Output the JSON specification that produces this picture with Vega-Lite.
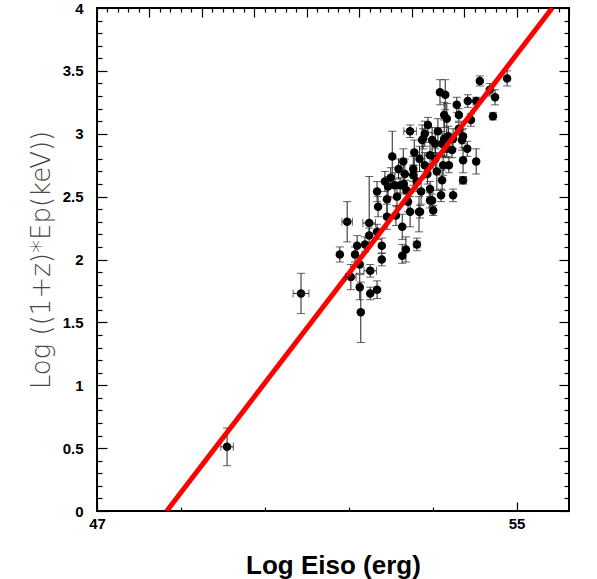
{
  "$schema": "https://vega.github.io/schema/vega-lite/v6.json",
  "width": 472,
  "height": 503,
  "autosize": "none",
  "padding": {"left": 97, "top": 8, "right": 28, "bottom": 68},
  "background": "white",
  "config": {
    "view": {"stroke": "black", "strokeWidth": 2},
    "axis": {"grid": false, "domain": false, "labelColor": "black", "labelFont": "Liberation Sans", "labelFontWeight": "bold", "labelFontSize": 15}
  },
  "datasets": {
    "pts": [
      {"x": 49.48, "y": 0.51, "ylo": 0.36, "yhi": 0.66, "xlo": 49.36, "xhi": 49.6},
      {"x": 50.89, "y": 1.73, "ylo": 1.57, "yhi": 1.89, "xlo": 50.74, "xhi": 51.04},
      {"x": 51.77, "y": 2.30, "ylo": 2.14, "yhi": 2.46, "xlo": 51.67, "xhi": 51.87},
      {"x": 52.19, "y": 2.29, "ylo": 2.19, "yhi": 2.66, "xlo": 52.07, "xhi": 52.31},
      {"x": 51.63, "y": 2.04, "ylo": 1.98, "yhi": 2.10},
      {"x": 51.96, "y": 2.11, "ylo": 2.03, "yhi": 2.19},
      {"x": 51.92, "y": 2.04, "ylo": 1.98, "yhi": 2.10},
      {"x": 52.01, "y": 1.96, "ylo": 1.89, "yhi": 2.03},
      {"x": 52.21, "y": 1.91, "ylo": 1.86, "yhi": 1.96, "xlo": 52.09, "xhi": 52.33},
      {"x": 51.84, "y": 1.86, "ylo": 1.76, "yhi": 1.96, "xlo": 51.74, "xhi": 51.94},
      {"x": 52.01, "y": 1.78, "ylo": 1.68, "yhi": 1.88},
      {"x": 52.21, "y": 1.73, "ylo": 1.68, "yhi": 1.78},
      {"x": 52.34, "y": 1.76, "ylo": 1.69, "yhi": 1.83},
      {"x": 52.03, "y": 1.58, "ylo": 1.34, "yhi": 1.82},
      {"x": 52.43, "y": 2.00, "ylo": 1.95, "yhi": 2.05},
      {"x": 52.43, "y": 2.11, "ylo": 2.05, "yhi": 2.17},
      {"x": 52.82, "y": 2.03, "ylo": 1.97, "yhi": 2.12},
      {"x": 52.89, "y": 2.08, "ylo": 1.98, "yhi": 2.18},
      {"x": 53.10, "y": 2.12, "ylo": 2.07, "yhi": 2.17, "xlo": 53.04, "xhi": 53.16},
      {"x": 52.82, "y": 2.26, "ylo": 2.16, "yhi": 2.36},
      {"x": 53.14, "y": 2.38, "ylo": 2.22, "yhi": 2.50},
      {"x": 52.97, "y": 2.38, "ylo": 2.26, "yhi": 2.50},
      {"x": 52.36, "y": 2.42, "ylo": 2.34, "yhi": 2.50},
      {"x": 52.19, "y": 2.19, "ylo": 2.13, "yhi": 2.25},
      {"x": 52.34, "y": 2.22, "ylo": 2.16, "yhi": 2.28},
      {"x": 52.11, "y": 2.12, "ylo": 2.06, "yhi": 2.18},
      {"x": 53.35, "y": 2.47, "ylo": 2.41, "yhi": 2.53},
      {"x": 53.41, "y": 2.39, "ylo": 2.35, "yhi": 2.43},
      {"x": 52.84, "y": 2.78, "ylo": 2.68, "yhi": 2.88},
      {"x": 53.20, "y": 2.95, "ylo": 2.83, "yhi": 3.07},
      {"x": 53.35, "y": 2.83, "ylo": 2.73, "yhi": 2.93},
      {"x": 53.45, "y": 2.92, "ylo": 2.84, "yhi": 3.00},
      {"x": 53.58, "y": 2.92, "ylo": 2.82, "yhi": 3.02},
      {"x": 53.77, "y": 2.87, "ylo": 2.81, "yhi": 2.93},
      {"x": 53.96, "y": 2.95, "ylo": 2.87, "yhi": 3.03},
      {"x": 54.06, "y": 2.88, "ylo": 2.82, "yhi": 2.94},
      {"x": 53.98, "y": 2.79, "ylo": 2.69, "yhi": 2.89},
      {"x": 54.23, "y": 2.78, "ylo": 2.68, "yhi": 2.88},
      {"x": 53.98, "y": 2.63, "ylo": 2.60, "yhi": 2.66, "xlo": 53.92, "xhi": 54.04},
      {"x": 53.60, "y": 2.75, "ylo": 2.67, "yhi": 2.83},
      {"x": 53.71, "y": 2.75, "ylo": 2.69, "yhi": 2.81},
      {"x": 53.25, "y": 2.75, "ylo": 2.65, "yhi": 2.85},
      {"x": 53.03, "y": 2.72, "ylo": 2.62, "yhi": 2.82},
      {"x": 52.87, "y": 2.68, "ylo": 2.56, "yhi": 2.80},
      {"x": 53.03, "y": 2.67, "ylo": 2.59, "yhi": 2.75},
      {"x": 53.48, "y": 2.70, "ylo": 2.55, "yhi": 2.85},
      {"x": 53.58, "y": 2.63, "ylo": 2.55, "yhi": 2.71},
      {"x": 53.35, "y": 2.56, "ylo": 2.50, "yhi": 2.62},
      {"x": 53.18, "y": 2.54, "ylo": 2.44, "yhi": 2.64},
      {"x": 53.39, "y": 2.47, "ylo": 2.42, "yhi": 2.52},
      {"x": 53.56, "y": 2.51, "ylo": 2.46, "yhi": 2.56},
      {"x": 53.79, "y": 2.51, "ylo": 2.46, "yhi": 2.56},
      {"x": 53.16, "y": 2.38, "ylo": 2.33, "yhi": 2.43},
      {"x": 52.93, "y": 2.46, "ylo": 2.38, "yhi": 2.54},
      {"x": 54.30, "y": 3.42, "ylo": 3.38, "yhi": 3.46},
      {"x": 54.82, "y": 3.44, "ylo": 3.38, "yhi": 3.50},
      {"x": 54.49, "y": 3.35, "ylo": 3.30, "yhi": 3.40},
      {"x": 54.59, "y": 3.29, "ylo": 3.23, "yhi": 3.35},
      {"x": 54.55, "y": 3.14, "ylo": 3.11, "yhi": 3.17},
      {"x": 53.54, "y": 3.33, "ylo": 3.23, "yhi": 3.43},
      {"x": 53.64, "y": 3.31, "ylo": 3.19, "yhi": 3.43},
      {"x": 53.86, "y": 3.23, "ylo": 3.17, "yhi": 3.29},
      {"x": 54.07, "y": 3.26, "ylo": 3.21, "yhi": 3.31},
      {"x": 54.23, "y": 3.26, "ylo": 3.23, "yhi": 3.29},
      {"x": 53.90, "y": 3.15, "ylo": 3.10, "yhi": 3.20},
      {"x": 53.62, "y": 3.15, "ylo": 3.05, "yhi": 3.25},
      {"x": 53.67, "y": 3.12, "ylo": 3.00, "yhi": 3.24},
      {"x": 54.13, "y": 3.11, "ylo": 3.06, "yhi": 3.16},
      {"x": 53.90, "y": 3.04, "ylo": 2.99, "yhi": 3.09},
      {"x": 53.98, "y": 2.98, "ylo": 2.92, "yhi": 3.04},
      {"x": 53.31, "y": 3.07, "ylo": 3.01, "yhi": 3.13},
      {"x": 53.50, "y": 3.02, "ylo": 2.92, "yhi": 3.12},
      {"x": 53.25, "y": 3.00, "ylo": 2.90, "yhi": 3.10},
      {"x": 53.62, "y": 2.96, "ylo": 2.81, "yhi": 3.11},
      {"x": 53.39, "y": 2.95, "ylo": 2.85, "yhi": 3.05},
      {"x": 53.22, "y": 2.96, "ylo": 2.88, "yhi": 3.04},
      {"x": 52.97, "y": 3.02, "ylo": 2.97, "yhi": 3.07, "xlo": 52.85, "xhi": 53.09},
      {"x": 52.63, "y": 2.82, "ylo": 2.60, "yhi": 3.02},
      {"x": 52.49, "y": 2.62, "ylo": 2.54, "yhi": 2.70},
      {"x": 52.68, "y": 2.59, "ylo": 2.49, "yhi": 2.69},
      {"x": 52.53, "y": 2.48, "ylo": 2.36, "yhi": 2.60},
      {"x": 52.72, "y": 2.50, "ylo": 2.42, "yhi": 2.58},
      {"x": 53.79, "y": 2.96, "ylo": 2.88, "yhi": 3.04},
      {"x": 53.67, "y": 2.88, "ylo": 2.82, "yhi": 2.94},
      {"x": 52.34, "y": 2.54, "ylo": 2.46, "yhi": 2.62},
      {"x": 52.78, "y": 2.59, "ylo": 2.53, "yhi": 2.65},
      {"x": 52.53, "y": 2.34, "ylo": 2.24, "yhi": 2.44},
      {"x": 52.60, "y": 2.65, "ylo": 2.57, "yhi": 2.73},
      {"x": 52.75, "y": 2.72, "ylo": 2.64, "yhi": 2.80},
      {"x": 52.90, "y": 2.55, "ylo": 2.47, "yhi": 2.63},
      {"x": 53.10, "y": 2.62, "ylo": 2.54, "yhi": 2.70},
      {"x": 53.05, "y": 2.85, "ylo": 2.75, "yhi": 2.95},
      {"x": 52.70, "y": 2.35, "ylo": 2.27, "yhi": 2.43},
      {"x": 53.30, "y": 2.68, "ylo": 2.60, "yhi": 2.76},
      {"x": 53.15, "y": 2.80, "ylo": 2.70, "yhi": 2.90},
      {"x": 52.55, "y": 2.58, "ylo": 2.50, "yhi": 2.66},
      {"x": 52.85, "y": 2.60, "ylo": 2.52, "yhi": 2.68},
      {"x": 53.45, "y": 2.80, "ylo": 2.72, "yhi": 2.88},
      {"x": 53.70, "y": 2.98, "ylo": 2.90, "yhi": 3.06}
    ],
    "fit": [
      {"x": 48.33, "y": 0},
      {"x": 55.68, "y": 4}
    ]
  },
  "layer": [
    {
      "data": {"name": "pts"},
      "mark": {"type": "errorbar", "color": "#222", "thickness": 1, "ticks": {"size": 8}},
      "encoding": {
        "x": {"field": "x", "type": "quantitative", "scale": {"domain": [47, 56], "nice": false, "zero": false},
          "axis": {"orient": "bottom", "tickCount": 200, "values": [47, 47.2, 47.4, 47.6, 47.8, 48, 48.2, 48.4, 48.6, 48.8, 49, 49.2, 49.4, 49.6, 49.8, 50, 50.2, 50.4, 50.6, 50.8, 51, 51.2, 51.4, 51.6, 51.8, 52, 52.2, 52.4, 52.6, 52.8, 53, 53.2, 53.4, 53.6, 53.8, 54, 54.2, 54.4, 54.6, 54.8, 55, 55.2, 55.4, 55.6, 55.8, 56],
            "format": "d", "labelExpr": "abs(datum.value - round(datum.value)) < 0.001 ? datum.label : ''", "labelOverlap": false,
            "tickColor": "black", "tickWidth": 1.2,
            "tickSize": {"condition": {"test": "abs(datum.value - round(datum.value)) < 0.001", "value": -9}, "value": -4},
            "labelPadding": 14, "labelFlush": false,
            "title": "Log Eiso (erg)", "titleFont": "Liberation Sans", "titleFontSize": 26, "titleFontWeight": "bold", "titleColor": "black", "titlePadding": 16}},
        "y": {"field": "ylo", "type": "quantitative", "scale": {"domain": [0, 4], "nice": false, "zero": false},
          "axis": {"orient": "left", "tickCount": 200, "values": [0, 0.1, 0.2, 0.3, 0.4, 0.5, 0.6, 0.7, 0.8, 0.9, 1, 1.1, 1.2, 1.3, 1.4, 1.5, 1.6, 1.7, 1.8, 1.9, 2, 2.1, 2.2, 2.3, 2.4, 2.5, 2.6, 2.7, 2.8, 2.9, 3, 3.1, 3.2, 3.3, 3.4, 3.5, 3.6, 3.7, 3.8, 3.9, 4],
            "format": "~g", "labelExpr": "abs(datum.value * 2 - round(datum.value * 2)) < 0.001 ? datum.label : ''", "labelOverlap": false,
            "tickColor": "black", "tickWidth": 1.2,
            "tickSize": {"condition": {"test": "abs(datum.value * 2 - round(datum.value * 2)) < 0.001", "value": -10}, "value": -5},
            "labelPadding": 24, "labelFlush": false,
            "title": "Log ((1+z)*Ep(keV))", "titleFont": "DejaVu Sans", "titleFontSize": 26, "titleFontWeight": 200, "titleColor": "#444", "titlePadding": 8}},
        "y2": {"field": "yhi"}
      }
    },
    {
      "data": {"name": "pts"},
      "mark": {"type": "circle", "color": "black", "opacity": 1, "size": 72},
      "encoding": {
        "x": {"field": "x", "type": "quantitative", "scale": {"domain": [47, 56], "nice": false, "zero": false},
          "axis": {"orient": "top", "tickCount": 200, "values": [47, 47.2, 47.4, 47.6, 47.8, 48, 48.2, 48.4, 48.6, 48.8, 49, 49.2, 49.4, 49.6, 49.8, 50, 50.2, 50.4, 50.6, 50.8, 51, 51.2, 51.4, 51.6, 51.8, 52, 52.2, 52.4, 52.6, 52.8, 53, 53.2, 53.4, 53.6, 53.8, 54, 54.2, 54.4, 54.6, 54.8, 55, 55.2, 55.4, 55.6, 55.8, 56],
            "tickColor": "black", "tickWidth": 1.2,
            "tickSize": {"condition": {"test": "abs(datum.value - round(datum.value)) < 0.001", "value": -9}, "value": -4},
            "labels": false, "title": null}},
        "y": {"field": "y", "type": "quantitative", "scale": {"domain": [0, 4], "nice": false, "zero": false},
          "axis": {"orient": "right", "tickCount": 200, "values": [0, 0.1, 0.2, 0.3, 0.4, 0.5, 0.6, 0.7, 0.8, 0.9, 1, 1.1, 1.2, 1.3, 1.4, 1.5, 1.6, 1.7, 1.8, 1.9, 2, 2.1, 2.2, 2.3, 2.4, 2.5, 2.6, 2.7, 2.8, 2.9, 3, 3.1, 3.2, 3.3, 3.4, 3.5, 3.6, 3.7, 3.8, 3.9, 4],
            "tickColor": "black", "tickWidth": 1.2,
            "tickSize": {"condition": {"test": "abs(datum.value * 2 - round(datum.value * 2)) < 0.001", "value": -10}, "value": -5},
            "labels": false, "title": null}}
      }
    },
    {
      "data": {"name": "fit"},
      "mark": {"type": "line", "color": "#ff0000", "strokeWidth": 5, "clip": true},
      "encoding": {
        "x": {"field": "x", "type": "quantitative", "scale": {"domain": [47, 56], "nice": false, "zero": false}, "axis": null},
        "y": {"field": "y", "type": "quantitative", "scale": {"domain": [0, 4], "nice": false, "zero": false}, "axis": null}
      }
    },
    {
      "data": {"name": "pts"},
      "transform": [{"filter": "isValid(datum.xlo)"}],
      "mark": {"type": "rule", "color": "#222", "strokeWidth": 1},
      "encoding": {
        "x": {"field": "xlo", "type": "quantitative", "scale": {"domain": [47, 56], "nice": false, "zero": false}, "axis": null},
        "x2": {"field": "xhi"},
        "y": {"field": "y", "type": "quantitative", "scale": {"domain": [0, 4], "nice": false, "zero": false}, "axis": null}
      }
    },
    {
      "data": {"name": "pts"},
      "transform": [{"filter": "isValid(datum.xlo)"}],
      "mark": {"type": "tick", "orient": "vertical", "color": "#222", "size": 8, "thickness": 1},
      "encoding": {
        "x": {"field": "xlo", "type": "quantitative", "scale": {"domain": [47, 56], "nice": false, "zero": false}, "axis": null},
        "y": {"field": "y", "type": "quantitative", "scale": {"domain": [0, 4], "nice": false, "zero": false}, "axis": null}
      }
    },
    {
      "data": {"name": "pts"},
      "transform": [{"filter": "isValid(datum.xhi)"}],
      "mark": {"type": "tick", "orient": "vertical", "color": "#222", "size": 8, "thickness": 1},
      "encoding": {
        "x": {"field": "xhi", "type": "quantitative", "scale": {"domain": [47, 56], "nice": false, "zero": false}, "axis": null},
        "y": {"field": "y", "type": "quantitative", "scale": {"domain": [0, 4], "nice": false, "zero": false}, "axis": null}
      }
    }
  ],
  "resolve": {"axis": {"x": "independent", "y": "independent"}}
}
